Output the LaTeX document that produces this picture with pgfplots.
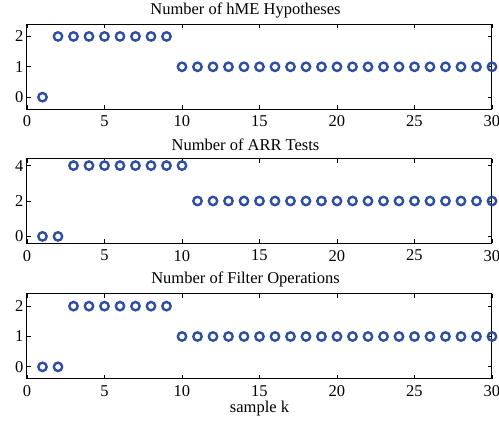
\documentclass[border=0pt]{standalone}
\usepackage{fontspec}
\setmainfont{Liberation Serif}
\usepackage{pgfplots}
\pgfplotsset{compat=1.18}
\definecolor{mblue}{RGB}{46,78,160}
\pgfplotsset{
  mstyle/.style={
    scale only axis, width=465pt, height=85pt,
    xmin=0, xmax=30, xtick={0,5,...,30},
    tick align=inside, tick pos=both,
    major tick length=4pt,
    axis line style={line width=1pt},
    every tick/.style={black, line width=0.8pt},
    clip=false,
    font=\fontsize{16.5}{18}\selectfont,
    ticklabel style={font=\fontsize{16.5}{18}\selectfont},
    xticklabel style={yshift=-3pt},
    /pgf/number format/assume math mode=true,
    title style={yshift=-3pt, xshift=-14pt},
    anchor=south west,
  },
  mplot/.style={only marks, mark=o, mark size=4.2pt, mark options={line width=2.4pt}, color=mblue},
}
\begin{document}
\begin{tikzpicture}
\useasboundingbox (0pt,0pt) rectangle (499pt,421pt);
\begin{axis}[mstyle, at={(27pt,311.7pt)}, ymin=-0.4, ymax=2.4, ytick={0,1,2}, title={Number of hME Hypotheses}]
\addplot[mplot] coordinates {(1,0)(2,2)(3,2)(4,2)(5,2)(6,2)(7,2)(8,2)(9,2)
(10,1)(11,1)(12,1)(13,1)(14,1)(15,1)(16,1)(17,1)(18,1)(19,1)(20,1)(21,1)(22,1)(23,1)(24,1)(25,1)(26,1)(27,1)(28,1)(29,1)(30,1)};
\end{axis}
\begin{axis}[mstyle, at={(27pt,177.5pt)}, ymin=-0.4, ymax=4.4, ytick={0,2,4}, title={Number of ARR Tests}, title style={yshift=1pt}]
\addplot[mplot] coordinates {(1,0)(2,0)(3,4)(4,4)(5,4)(6,4)(7,4)(8,4)(9,4)(10,4)
(11,2)(12,2)(13,2)(14,2)(15,2)(16,2)(17,2)(18,2)(19,2)(20,2)(21,2)(22,2)(23,2)(24,2)(25,2)(26,2)(27,2)(28,2)(29,2)(30,2)};
\end{axis}
\begin{axis}[mstyle, at={(27pt,42pt)}, ymin=-0.4, ymax=2.4, ytick={0,1,2}, title={Number of Filter Operations}, xlabel={sample k}, xlabel style={yshift=2pt}]
\addplot[mplot] coordinates {(1,0)(2,0)(3,2)(4,2)(5,2)(6,2)(7,2)(8,2)(9,2)
(10,1)(11,1)(12,1)(13,1)(14,1)(15,1)(16,1)(17,1)(18,1)(19,1)(20,1)(21,1)(22,1)(23,1)(24,1)(25,1)(26,1)(27,1)(28,1)(29,1)(30,1)};
\end{axis}
\end{tikzpicture}
\end{document}
